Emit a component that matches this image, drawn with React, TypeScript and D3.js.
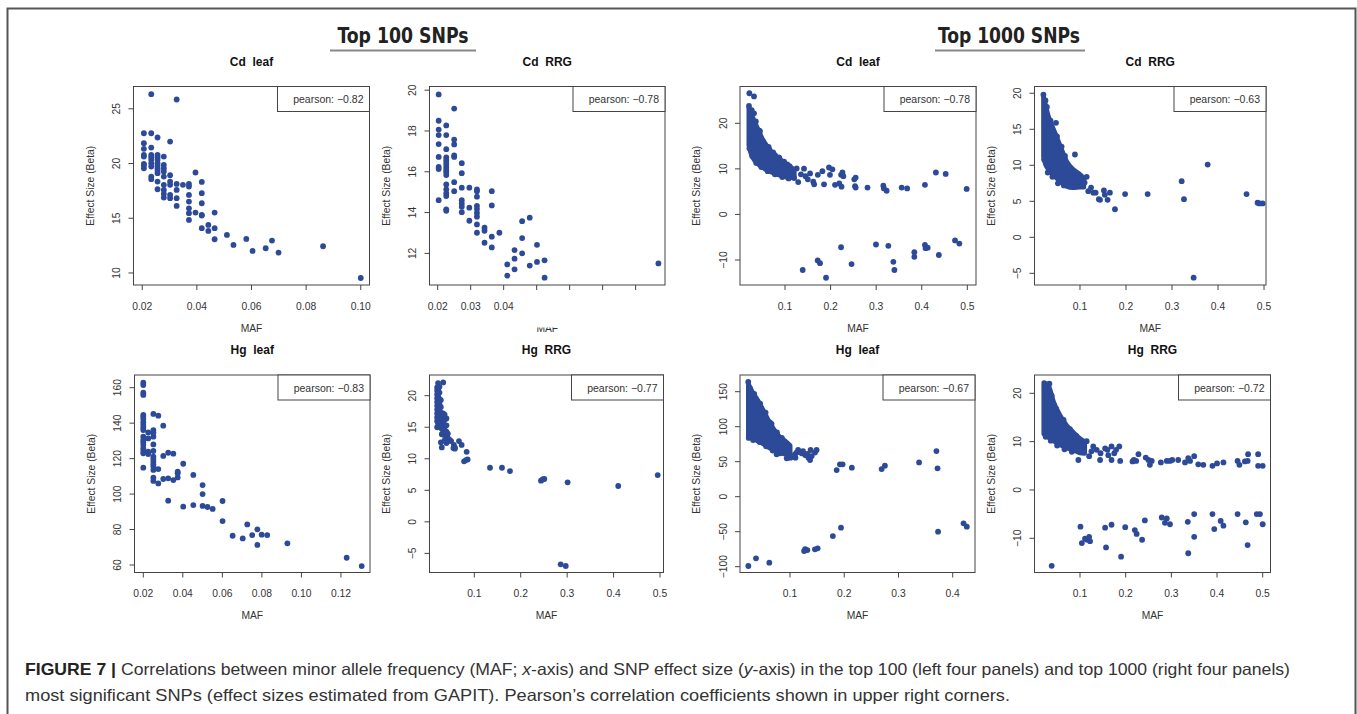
import React from "react";
import * as d3 from "d3";

type Pt = [number, number];
type Band = [number, number, number]; // maf, upper, lower

const DOT = "#2c4a97";
const TXT = "#333";

// ---------- Data ----------
const cdLeaf100: Pt[] = [
  [0.0206,22.77],[0.0206,21.86],[0.0206,21.34],[0.0206,20.79],[0.0206,20.64],[0.0206,19.97],[0.0206,19.85],[0.0206,19.57],
  [0.0233,26.34],[0.0233,22.77],[0.0233,21.46],[0.0233,20.79],[0.0233,20.58],[0.0233,20.34],[0.0233,20.03],[0.0233,19.73],[0.0233,18.81],[0.0233,18.57],
  [0.0256,22.38],[0.0256,20.79],[0.0256,20.58],[0.0256,20.34],[0.0256,20.03],[0.0256,19.79],[0.0256,19.57],[0.0256,19.36],[0.0256,19.12],[0.0256,18.35],[0.0256,17.65],
  [0.0279,20.64],[0.0279,19.88],[0.0279,19.57],[0.0279,19.27],[0.0279,18.81],[0.0279,18.05],[0.0279,17.59],[0.0279,17.23],[0.0279,16.89],
  [0.0302,22.01],[0.0302,18.93],[0.0302,18.35],[0.0302,18.05],[0.0302,17.13],[0.0302,16.83],
  [0.0326,25.85],[0.0326,18.14],[0.0326,17.59],[0.0326,16.83],[0.0326,16.13],
  [0.0349,18.05],
  [0.0371,18.14],[0.0371,17.9],[0.0371,17.13],[0.0371,16.52],[0.0371,15.91],[0.0371,15.46],[0.0371,14.85],
  [0.0395,19.18],[0.0395,15.52],
  [0.0418,18.32],[0.0418,17.29],[0.0418,16.37],[0.0418,15.3],[0.0418,15.24],[0.0418,14.09],
  [0.0442,14.39],[0.0442,13.84],
  [0.0465,15.52],[0.0465,14.09],[0.0465,13.08],
  [0.051,13.48],[0.0534,12.56],[0.0581,13.11],[0.0604,12.01],[0.0652,12.26],[0.0675,12.96],[0.0699,11.86],[0.0862,12.44],[0.1,9.54],
];

const cdRRG100: Pt[] = [
  [0.0203,19.79],[0.0203,18.5],[0.0203,18.07],[0.0203,17.8],[0.0203,17.36],[0.0203,16.73],[0.0203,16.24],[0.0203,16.13],[0.0203,14.61],
  [0.0226,18.27],[0.0226,17.8],[0.0226,17.11],[0.0226,16.7],[0.0226,16.57],[0.0226,16.44],[0.0226,16.33],[0.0226,16.2],[0.0226,16.08],[0.0226,15.97],[0.0226,15.84],[0.0226,15.38],[0.0226,15.13],[0.0226,14.94],[0.0226,14.81],[0.0226,14.16],[0.0226,14.09],
  [0.025,19.1],[0.025,17.58],[0.025,17.34],[0.025,16.8],[0.025,16.73],[0.025,15.49],[0.025,15.05],
  [0.0273,16.42],[0.0273,15.93],[0.0273,15.22],[0.0273,14.61],[0.0273,14.45],[0.0273,14.29],[0.0273,14.02],
  [0.0296,15.22],[0.0296,14.24],[0.0296,13.6],
  [0.0319,15.13],[0.0319,15.05],[0.0319,14.78],[0.0319,14.33],[0.0319,14.17],[0.0319,13.98],[0.0319,13.8],[0.0319,13.42],[0.0319,13.01],
  [0.0342,13.26],[0.0342,13.11],[0.0342,12.52],
  [0.0364,15.05],[0.0364,14.35],[0.0364,12.82],[0.0364,12.29],
  [0.0387,13.01],
  [0.0411,11.46],[0.0411,10.91],
  [0.0433,12.16],[0.0433,11.74],[0.0433,11.22],
  [0.0456,13.58],[0.0456,12.75],[0.0456,12.0],
  [0.0479,13.75],[0.0479,11.4],
  [0.0501,12.42],[0.0501,11.58],
  [0.0524,11.66],[0.0524,10.81],
  [0.0869,11.51],
];

const cdLeaf1000Band: Band[] = [
  [0.021,23.3,15.2],[0.025,22.3,13.6],[0.03,21.0,12.4],[0.04,18.8,11.2],[0.05,16.6,10.4],[0.06,15.0,9.8],
  [0.07,13.6,9.3],[0.08,12.7,8.9],[0.09,12.0,8.6],[0.1,11.2,8.3],[0.112,10.4,8.1],[0.12,9.8,8.2],
];
const cdLeaf1000: Pt[] = [
  [0.0218,26.6],[0.032,25.9],[0.032,22.2],[0.0583,14.9],[0.0876,12.4],[0.045,18.2],[0.052,16.0],[0.066,14.2],[0.078,13.0],[0.095,11.5],[0.105,11.0],
  [0.021,23.8],[0.027,22.9],[0.036,20.4],[0.044,18.4],[0.064,14.8],[0.074,13.6],[0.086,12.5],[0.022,14.5],[0.028,12.8],[0.037,11.3],
  [0.048,10.4],[0.062,9.5],[0.078,8.8],[0.094,8.2],[0.108,7.9],[0.098,11.6],[0.11,10.6],
  [0.115,9.2],[0.12,8.0],[0.129,7.1],[0.135,8.8],[0.1256,10.1],[0.1417,10.05],[0.145,8.4],[0.155,9.0],[0.15,7.7],[0.162,7.2],[0.164,6.6],
  [0.172,8.7],[0.182,9.5],[0.1856,6.6],[0.1965,10.3],[0.1987,8.7],[0.204,9.9],[0.2097,6.5],[0.219,6.8],[0.223,8.7],[0.226,9.2],[0.228,8.4],
  [0.224,6.1],[0.252,7.7],[0.255,8.1],[0.2536,6.2],[0.255,5.9],[0.281,5.9],[0.3157,6.3],[0.317,5.7],[0.323,5.2],[0.356,5.9],[0.368,5.7],
  [0.407,6.5],[0.431,9.2],[0.4525,8.9],[0.4985,5.6],
  [0.1388,-12.2],[0.1717,-10.1],[0.1768,-10.7],[0.19,-13.9],[0.223,-7.2],[0.246,-10.9],[0.2996,-6.6],[0.3267,-6.9],[0.3377,-10.4],
  [0.34,-12.2],[0.3837,-8.3],[0.3837,-9.3],[0.407,-6.7],[0.4085,-7.4],[0.413,-7.3],[0.4375,-8.9],[0.473,-5.7],[0.4825,-6.4],
];

const cdRRG1000Band: Band[] = [
  [0.021,19.4,11.2],[0.025,18.3,10.2],[0.031,16.8,9.5],[0.042,15.0,8.7],[0.056,12.8,7.8],[0.071,10.5,7.1],
  [0.085,9.4,6.9],[0.1,8.7,7.0],[0.108,8.2,7.0],
];
const cdRRG1000: Pt[] = [
  [0.0205,19.8],[0.025,19.0],[0.028,18.1],[0.036,16.2],[0.05,14.0],[0.06,12.6],[0.022,10.8],[0.03,9.0],[0.04,8.4],[0.052,7.5],[0.065,7.2],
  [0.0478,15.9],[0.0674,11.3],[0.089,11.5],[0.1145,8.4],[0.105,8.0],[0.11,7.6],[0.118,6.4],[0.093,7.8],[0.124,6.9],[0.129,6.2],[0.134,6.2],
  [0.1435,5.2],[0.141,5.3],[0.152,6.5],[0.154,5.9],[0.16,5.2],[0.165,6.2],[0.176,3.9],[0.198,6.0],[0.247,6.0],[0.321,7.8],[0.326,5.3],
  [0.347,-5.6],[0.3775,10.1],[0.462,6.0],[0.486,4.8],[0.49,4.7],[0.497,4.7],
];

const hgLeaf100: Pt[] = [
  [0.02,162.8],[0.02,161.5],[0.02,157.2],[0.02,155.9],[0.02,144.6],[0.02,143.6],[0.02,142.3],[0.02,140.5],[0.02,138.9],[0.02,137.4],[0.02,136.1],
  [0.02,132.4],[0.02,130.5],[0.02,129.2],[0.02,127.7],[0.02,125.8],[0.02,124.3],[0.02,123.0],[0.02,114.9],
  [0.0225,134.8],[0.0225,131.4],[0.0225,123.9],[0.0225,122.6],
  [0.0251,145.2],[0.0251,136.1],[0.0251,134.6],[0.0251,132.4],[0.0251,128.0],[0.0251,124.3],[0.0251,121.1],[0.0251,119.8],[0.0251,118.3],
  [0.0251,116.8],[0.0251,115.5],[0.0251,113.6],[0.0251,109.2],[0.0251,107.4],
  [0.0276,144.2],[0.0276,114.1],[0.0276,106.0],
  [0.0301,138.6],[0.0301,121.5],[0.0301,108.5],
  [0.0326,123.3],[0.0326,108.9],[0.0326,96.3],
  [0.0352,122.8],[0.0352,107.9],
  [0.0374,112.6],[0.0374,111.7],[0.0374,109.4],
  [0.0402,117.1],[0.0402,92.9],
  [0.0453,110.8],[0.0453,93.8],
  [0.05,105.1],[0.05,100.0],[0.05,93.3],
  [0.0525,92.7],[0.0551,91.6],[0.0601,96.1],[0.0601,84.8],[0.0652,76.5],[0.0703,75.0],[0.0726,82.9],[0.0751,76.9],
  [0.0777,80.1],[0.0777,71.3],[0.0799,77.1],[0.0827,76.9],[0.0929,72.2],[0.1229,64.1],[0.1305,59.4],
];

const hgRRG100: Pt[] = [
  [0.02,21.3],[0.02,20.8],[0.02,20.2],[0.02,19.6],[0.02,19.0],[0.02,18.4],[0.02,17.8],[0.02,17.2],[0.02,16.6],[0.02,16.0],[0.02,15.0],
  [0.022,22.0],[0.022,21.0],[0.022,19.9],[0.022,18.9],[0.022,17.9],[0.022,17.0],[0.022,16.3],[0.022,15.6],
  [0.025,21.4],[0.025,20.5],[0.025,19.5],[0.025,19.2],[0.025,18.6],[0.025,17.6],[0.025,16.9],[0.025,16.2],[0.025,15.3],
  [0.028,19.3],[0.028,18.2],[0.028,17.3],[0.028,16.5],[0.028,15.8],[0.028,14.9],[0.028,12.6],
  [0.03,17.0],[0.03,16.4],[0.03,15.6],[0.03,14.8],[0.03,13.9],[0.03,11.8],
  [0.033,22.1],[0.033,17.2],[0.033,16.6],[0.033,15.9],[0.033,15.2],[0.033,14.4],[0.033,13.8],
  [0.036,17.0],[0.036,16.2],[0.036,15.3],[0.036,14.6],[0.036,13.8],[0.036,12.9],
  [0.04,16.4],[0.04,15.3],[0.04,14.3],[0.04,13.2],[0.04,12.5],
  [0.043,14.0],[0.043,13.3],[0.047,13.0],[0.047,12.9],[0.05,12.8],
  [0.056,12.2],[0.0583,11.75],[0.055,11.7],[0.058,11.6],[0.067,12.8],[0.0727,12.2],[0.0835,11.1],[0.078,9.6],[0.082,9.8],[0.0856,9.9],
  [0.1338,8.58],[0.1596,8.58],[0.1768,8.05],[0.2436,6.52],[0.2472,6.73],[0.2508,6.79],[0.301,6.26],[0.41,5.68],[0.495,7.42],
  [0.286,-6.74],[0.297,-7.0],
];

const hgLeaf1000Band: Band[] = [
  [0.0235,160,87],[0.03,150,84],[0.04,138,80],[0.05,124,76],[0.06,109,71],[0.07,96,67],[0.08,86,64],[0.09,80,61],[0.1,73,58],
];
const hgLeaf1000: Pt[] = [
  [0.023,164],[0.026,155],[0.034,147],[0.045,133],[0.055,120],[0.066,104],[0.076,92],[0.085,84],[0.024,84],[0.032,81],[0.044,78],
  [0.056,72],[0.068,66],[0.082,62],[0.097,56],
  [0.0447,128.6],[0.063,106],[0.0754,60.5],[0.0939,72],[0.11,55.7],[0.118,64],[0.115,66.7],[0.1215,62],[0.128,59.5],[0.134,55.7],
  [0.137,52.4],[0.138,66.7],[0.149,66.7],[0.146,63],[0.109,60.5],[0.101,55.7],[0.094,54.8],[0.112,63],[0.124,65],[0.132,61],[0.14,58],
  [0.186,38.1],[0.192,46.2],[0.197,46.2],[0.214,41.4],[0.269,39.5],[0.275,44.3],[0.338,49],[0.37,65.2],[0.372,40.5],
  [0.194,-44.3],[0.179,-56.2],[0.128,-74.8],[0.132,-76.2],[0.126,-77.6],[0.146,-75.2],[0.151,-73.8],[0.0373,-88.1],[0.0619,-94.3],
  [0.0232,-99],[0.373,-50],[0.42,-38.1],[0.426,-42.9],
];

const hgRRG1000Band: Band[] = [
  [0.021,22.2,11.6],[0.031,21.5,10.9],[0.042,18.2,10.2],[0.056,15.4,9.4],[0.071,13.3,8.7],[0.085,11.9,8.3],[0.1,10.6,7.7],[0.11,10.0,7.6],
];
const hgRRG1000: Pt[] = [
  [0.033,22.0],[0.064,14.5],[0.038,19.5],[0.048,16.8],[0.078,12.6],[0.092,11.2],[0.025,11.0],[0.036,10.2],[0.05,9.2],[0.066,8.4],[0.082,7.9],
  [0.0964,6.2],[0.1146,10.1],[0.129,9.0],[0.1365,8.3],[0.145,7.6],[0.155,8.6],[0.16,8.3],[0.162,7.2],[0.169,6.2],
  [0.169,9.0],[0.175,7.6],[0.179,8.3],[0.186,9.0],[0.188,6.0],[0.144,6.2],[0.12,7.0],[0.125,8.0],
  [0.215,5.9],[0.218,6.2],[0.223,6.0],[0.228,7.4],[0.244,6.7],[0.25,6.2],[0.253,5.2],[0.257,6.0],[0.277,5.7],[0.29,6.0],[0.297,6.0],
  [0.302,6.2],[0.315,6.2],[0.33,5.7],[0.337,6.6],[0.341,6.0],[0.35,7.0],[0.359,5.3],[0.37,5.2],[0.39,5.0],[0.4,5.5],[0.414,5.7],
  [0.445,6.0],[0.449,5.2],[0.461,5.9],[0.467,6.0],[0.468,7.4],[0.49,7.4],[0.49,5.0],[0.5,5.0],
  [0.101,-7.6],[0.104,-11.0],[0.111,-10.1],[0.116,-10.3],[0.12,-9.7],[0.122,-10.6],[0.155,-7.8],[0.157,-11.9],[0.169,-7.2],[0.19,-13.8],
  [0.199,-7.7],[0.22,-8.3],[0.224,-9.1],[0.236,-10.3],[0.242,-6.3],[0.279,-5.7],[0.286,-6.8],[0.29,-5.9],[0.297,-7.1],[0.336,-6.6],
  [0.337,-13.1],[0.35,-5.0],[0.35,-9.7],[0.39,-5.0],[0.394,-8.1],[0.408,-6.4],[0.414,-7.4],[0.445,-5.0],[0.463,-6.7],[0.467,-11.4],
  [0.487,-5.0],[0.494,-5.0],[0.5,-7.1],[0.038,-15.7],
];

const titles = ["Cd  leaf", "Cd  RRG", "Cd  leaf", "Cd  RRG", "Hg  leaf", "Hg  RRG", "Hg  leaf", "Hg  RRG"];
const pearsons = ["\u22120.82", "\u22120.78", "\u22120.78", "\u22120.63", "\u22120.83", "\u22120.77", "\u22120.67", "\u22120.72"];

const ticksP1 = [0.02, 0.04, 0.06, 0.08, 0.1];
const ticksP2 = [0.02, 0.03, 0.04, 0.05, 0.06, 0.07, 0.08];
const ticksHalf = [0.1, 0.2, 0.3, 0.4, 0.5];
const ticksP5 = [0.02, 0.04, 0.06, 0.08, 0.1, 0.12];
const ticksP7 = [0.1, 0.2, 0.3, 0.4];

const yTicksP1 = [10, 15, 20, 25];
const yTicksP2 = [12, 14, 16, 18, 20];
const yTicksP3 = [-10, 0, 10, 20];
const yTicksP4 = [-5, 0, 5, 10, 15, 20];
const yTicksP5 = [60, 80, 100, 120, 140, 160];
const yTicksP7 = [-100, -50, 0, 50, 100, 150];

const headings = ["Top 100 SNPs", "Top 1000 SNPs"];

// ---------- Layout ----------
interface Box { x0: number; x1: number; y0: number; y1: number }
interface Spec {
  title: string; pearson: string; points: Pt[]; band?: Band[];
  xDomain: [number, number]; yDomain: [number, number];
  xTicks: number[]; xFmt: (v: number) => string; xLabelCount?: number;
  yTicks: number[];
  box: Box; clipMAF?: boolean;
}

const R1 = { y0: 86.5, y1: 285 };
const R2 = { y0: 375, y1: 572.5 };
const f2 = (v: number) => v.toFixed(2);
const f1 = (v: number) => v.toFixed(1);
const fmtY = (v: number) => (v < 0 ? "\u2212" + Math.abs(v) : String(v));

const specs: Spec[] = [
  { title: titles[0], pearson: pearsons[0], points: cdLeaf100, xDomain: [0.0168, 0.1032], yDomain: [8.9, 27.04], xTicks: ticksP1, xFmt: f2, yTicks: yTicksP1, box: { x0: 133.5, x1: 369.5, ...R1 } },
  { title: titles[1], pearson: pearsons[1], points: cdRRG100, xDomain: [0.01752, 0.0889], yDomain: [10.45, 20.18], xTicks: ticksP2, xFmt: f2, xLabelCount: 3, yTicks: yTicksP2, box: { x0: 429.5, x1: 665, ...R1 }, clipMAF: true },
  { title: titles[2], pearson: pearsons[2], points: cdLeaf1000, band: cdLeaf1000Band, xDomain: [0.00127, 0.519], yDomain: [-15.49, 28.08], xTicks: ticksHalf, xFmt: f1, yTicks: yTicksP3, box: { x0: 740, x1: 976, ...R1 } },
  { title: titles[3], pearson: pearsons[3], points: cdRRG1000, band: cdRRG1000Band, xDomain: [0.0011, 0.5043], yDomain: [-6.62, 20.94], xTicks: ticksHalf, xFmt: f1, yTicks: yTicksP4, box: { x0: 1034.5, x1: 1266, ...R1 } },
  { title: titles[4], pearson: pearsons[4], points: hgLeaf100, xDomain: [0.01555, 0.1347], yDomain: [55.77, 167.16], xTicks: ticksP5, xFmt: f2, yTicks: yTicksP5, box: { x0: 134.5, x1: 370, ...R2 } },
  { title: titles[5], pearson: pearsons[5], points: hgRRG100, xDomain: [0.0035, 0.5075], yDomain: [-8.03, 23.28], xTicks: ticksHalf, xFmt: f1, yTicks: yTicksP4, box: { x0: 429.5, x1: 663.5, ...R2 } },
  { title: titles[6], pearson: pearsons[6], points: hgLeaf1000, band: hgLeaf1000Band, xDomain: [0.0078, 0.4411], yDomain: [-108.3, 173.86], xTicks: ticksP7, xFmt: f1, yTicks: yTicksP7, box: { x0: 740, x1: 975, ...R2 } },
  { title: titles[7], pearson: pearsons[7], points: hgRRG1000, band: hgRRG1000Band, xDomain: [0.00037, 0.5171], yDomain: [-17.08, 23.79], xTicks: ticksHalf, xFmt: f1, yTicks: yTicksP3, box: { x0: 1034.5, x1: 1270.5, ...R2 } },
];

const FONT = "'Liberation Sans', Arial, Helvetica, sans-serif";
const TICK_FS = 10.3;

function Panel({ spec }: { spec: Spec }) {
  const { box } = spec;
  const x = d3.scaleLinear().domain(spec.xDomain).range([box.x0, box.x1]);
  const y = d3.scaleLinear().domain(spec.yDomain).range([box.y1, box.y0]);
  const bandPath = spec.band
    ? d3.area<Band>().x((d) => x(d[0])).y0((d) => y(d[2])).y1((d) => y(d[1])).curve(d3.curveMonotoneX)(spec.band)
    : null;
  const cx = (box.x0 + box.x1) / 2;
  const cy = (box.y0 + box.y1) / 2;
  const nLab = spec.xLabelCount ?? spec.xTicks.length;
  return (
    <g fontFamily={FONT}>
      <text x={cx} y={box.y0 - 21} textAnchor="middle" fontWeight="bold" fontSize={12} fill="#111" style={{ whiteSpace: "pre" }}>
        {spec.title}
      </text>
      {bandPath && <path d={bandPath} fill={DOT} stroke={DOT} strokeWidth={5} strokeLinejoin="round" />}
      {spec.points.map((p, i) => (
        <circle key={i} cx={x(p[0])} cy={y(p[1])} r={2.9} fill={DOT} />
      ))}
      <rect x={box.x0} y={box.y0} width={box.x1 - box.x0} height={box.y1 - box.y0} fill="none" stroke="#444" strokeWidth={1} />
      {spec.xTicks.map((t, i) => (
        <g key={"xt" + i}>
          <line x1={x(t)} x2={x(t)} y1={box.y1} y2={box.y1 + 5} stroke="#444" />
          {i < nLab && (
            <text x={x(t)} y={box.y1 + 24.5} textAnchor="middle" fontSize={TICK_FS} fill={TXT}>
              {spec.xFmt(t)}
            </text>
          )}
        </g>
      ))}
      {spec.yTicks.map((t, i) => (
        <g key={"yt" + i}>
          <line x1={box.x0 - 5} x2={box.x0} y1={y(t)} y2={y(t)} stroke="#444" />
          <text
            transform={`translate(${box.x0 - 13.5},${y(t)}) rotate(-90)`}
            textAnchor="middle"
            fontSize={TICK_FS}
            fill={TXT}
          >
            {fmtY(t)}
          </text>
        </g>
      ))}
      <rect x={box.x1 - 92} y={box.y0} width={92} height={25} fill="white" stroke="#444" strokeWidth={1} />
      <text x={box.x1 - 6} y={box.y0 + 16.5} textAnchor="end" fontSize={10.5} fill={TXT}>
        {"pearson: " + spec.pearson}
      </text>
      <text x={cx} y={box.y1 + 46.5} textAnchor="middle" fontSize={10.3} fill={TXT}>
        MAF
      </text>
      {spec.clipMAF && <rect x={cx - 20} y={box.y1 + 30} width={40} height={12.5} fill="white" />}
      <text
        transform={`translate(${box.x0 - 40},${cy}) rotate(-90)`}
        textAnchor="middle"
        fontSize={10.3}
        fill={TXT}
      >
        Effect Size (Beta)
      </text>
    </g>
  );
}

export default function App() {
  return (
    <div style={{ position: "absolute", left: 0, top: 0 }}>
      <svg width={1357} height={714} style={{ display: "block", background: "white" }}>
        {/* frame */}
        <path d="M7.5,714 L7.5,8.5 L1355.5,8.5 L1355.5,714" fill="none" stroke="#555" strokeWidth={2} />
        {/* headings */}
        <g fontFamily="'Liberation Sans Narrow', 'DejaVu Sans Condensed', 'Liberation Sans', Arial, sans-serif" fontWeight="bold" fill="#222">
          <text x={403} y={43} textAnchor="middle" fontSize={21} textLength={131} lengthAdjust="spacingAndGlyphs">
            {headings[0]}
          </text>
          <text x={1009} y={43} textAnchor="middle" fontSize={21} textLength={142} lengthAdjust="spacingAndGlyphs">
            {headings[1]}
          </text>
        </g>
        <line x1={330} x2={476} y1={50.5} y2={50.5} stroke="#888" strokeWidth={2} />
        <line x1={935} x2={1085} y1={50.5} y2={50.5} stroke="#888" strokeWidth={2} />
        {specs.map((s, i) => (
          <Panel key={i} spec={s} />
        ))}
        {/* caption */}
        <g fontFamily={FONT} fontSize={16.5} fill="#333">
          <text x={25} y={675} textLength={1265} lengthAdjust="spacingAndGlyphs">
            <tspan fontWeight="bold" fill="#222">FIGURE 7 | </tspan>
            <tspan>Correlations between minor allele frequency (MAF; </tspan>
            <tspan fontStyle="italic">x</tspan>
            <tspan>-axis) and SNP effect size (</tspan>
            <tspan fontStyle="italic">y</tspan>
            <tspan>-axis) in the top 100 (left four panels) and top 1000 (right four panels)</tspan>
          </text>
          <text x={25} y={701} textLength={985} lengthAdjust="spacingAndGlyphs">
            most significant SNPs (effect sizes estimated from GAPIT). Pearson’s correlation coefficients shown in upper right corners.
          </text>
        </g>
      </svg>
    </div>
  );
}
